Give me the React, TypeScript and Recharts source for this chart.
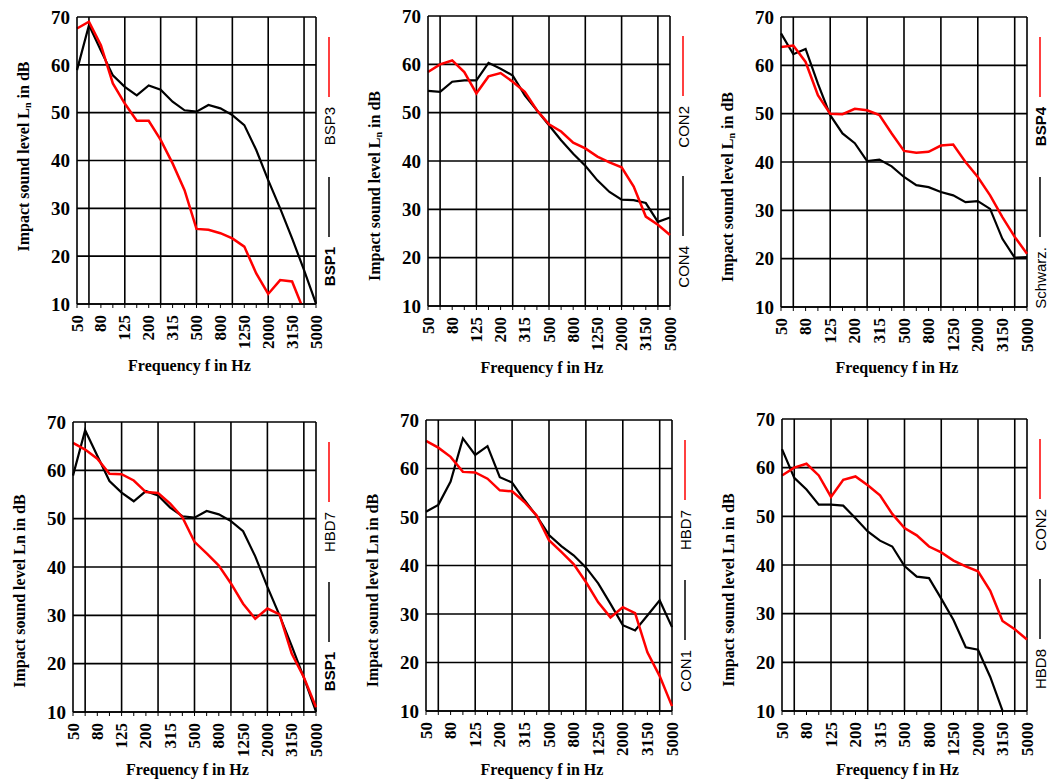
import React from "react";
import { LineChart, Line, XAxis, YAxis, CartesianGrid, ReferenceLine } from "recharts";

const freqs = ["50", "63", "80", "100", "125", "160", "200", "250", "315", "400", "500", "630", "800", "1000", "1250", "1600", "2000", "2500", "3150", "4000", "5000"];
const labeledFreqs = ["50", "80", "125", "200", "315", "500", "800", "1250", "2000", "3150", "5000"];
const octaveLines = ["63", "125", "250", "500", "1000", "2000", "4000", "5000"];
const yTicks = [10, 20, 30, 40, 50, 60, 70];

const bsp1 = [58.9, 68.3, 63, 57.8, 55.4, 53.6, 55.7, 54.8, 52.3, 50.5, 50.2, 51.6, 50.9, 49.5, 47.4, 42.2, 35.9, 30, 23.7, 17.1, 10.1];
const bsp3 = [67.6, 69, 64.1, 56.1, 51.9, 48.3, 48.3, 44.3, 39.4, 33.8, 25.7, 25.5, 24.8, 23.7, 22, 16.4, 12.1, 15, 14.7, 8.5, null];
const con2 = [58.4, 60, 60.8, 58.4, 54, 57.5, 58.2, 56.4, 54.3, 50.5, 47.6, 46.1, 43.8, 42.6, 40.9, 39.7, 38.7, 34.7, 28.5, 26.8, 24.7];
const con4 = [54.5, 54.3, 56.4, 56.7, 56.7, 60.3, 59.1, 57.7, 53.6, 50.5, 47.4, 44.3, 41.5, 39, 36, 33.6, 32, 31.9, 31.3, 27.4, 28.3];
const bsp4 = [63.8, 64.1, 60.7, 53.8, 50, 49.9, 51, 50.7, 49.7, 45.9, 42.3, 41.9, 42.1, 43.4, 43.6, 40, 36.9, 33.1, 28.6, 24.5, 21];
const schwarz = [66.6, 62.3, 63.4, 56.2, 49.7, 45.9, 43.9, 40.2, 40.5, 39.1, 36.9, 35.2, 34.8, 33.8, 33.1, 31.7, 31.9, 30.3, 24.1, 20.2, 20.3];
const hbd7 = [65.7, 64.3, 62.4, 59.3, 59.2, 57.9, 55.5, 55.3, 53.1, 50.3, 45.2, 42.8, 40.3, 36.6, 32.4, 29.3, 31.4, 30.2, 22.1, 17.2, 11];
const con1 = [51.1, 52.5, 57.3, 66.2, 62.8, 64.6, 58.2, 57.1, 53.5, 50.2, 46.3, 44, 42.1, 39.6, 36.3, 32.1, 27.7, 26.6, 29.7, 32.8, 27.3];
const hbd8 = [63.8, 57.9, 55.5, 52.4, 52.4, 52.2, 49.6, 46.9, 45, 43.8, 39.8, 37.6, 37.3, 33.1, 28.7, 23.1, 22.6, 17, 10.1, null, null];

// black series, red series, names, bold flags, subscript in y label
const panels = [
  { black: bsp1, red: bsp3, blackName: "BSP1", redName: "BSP3", blackBold: true, redBold: false, sub: true },
  { black: con4, red: con2, blackName: "CON4", redName: "CON2", blackBold: false, redBold: false, sub: true },
  { black: schwarz, red: bsp4, blackName: "Schwarz.", redName: "BSP4", blackBold: false, redBold: true, sub: true },
  { black: bsp1, red: hbd7, blackName: "BSP1", redName: "HBD7", blackBold: true, redBold: false, sub: false },
  { black: con1, red: hbd7, blackName: "CON1", redName: "HBD7", blackBold: false, redBold: false, sub: false },
  { black: hbd8, red: con2, blackName: "HBD8", redName: "CON2", blackBold: false, redBold: false, sub: false },
];

// plot-area frames: left, right, top, bottom, y-label shift, x-label offset
const frames = [
  { L: 77, R: 316, T: 17, B: 304, ly: -4, lx: 61 },
  { L: 428, R: 670, T: 16, B: 306, ly: 25, lx: 61 },
  { L: 781, R: 1027, T: 17, B: 307, ly: 25, lx: 60 },
  { L: 73, R: 316, T: 422, B: 712, ly: 24, lx: 57 },
  { L: 426, R: 672, T: 420, B: 711, ly: 25, lx: 58 },
  { L: 782, R: 1027, T: 419, B: 711, ly: 25, lx: 58 },
];

const SERIF = "'Liberation Serif', 'Times New Roman', serif";
const SANS = "'Liberation Sans', Arial, sans-serif";
const RED = "#ff0000";
const MT = 14;
const MR = 20;

const XTick = (props: any) => {
  const { x, y, payload } = props;
  if (!labeledFreqs.includes(payload.value)) return null;
  return (
    <text
      transform={`translate(${x},${y}) rotate(-90)`}
      textAnchor="end"
      dominantBaseline="central"
      fontFamily={SERIF}
      fontWeight="bold"
      fontSize={17}
      fill="#000"
    >
      {payload.value}
    </text>
  );
};

const YLabel = (props: any) => {
  const { viewBox, sub, shift } = props;
  const cx = viewBox.x + viewBox.width - 54;
  const cy = viewBox.y + viewBox.height / 2 + shift;
  return (
    <text
      x={cx}
      y={cy}
      transform={`rotate(-90 ${cx} ${cy})`}
      textAnchor="middle"
      dominantBaseline="central"
      fontFamily={SERIF}
      fontWeight="bold"
      fontSize={16}
      fill="#000"
    >
      {sub ? (
        <>
          <tspan>Impact sound level L</tspan>
          <tspan fontSize={10} dy={4}>n</tspan>
          <tspan dy={-4}> in dB</tspan>
        </>
      ) : (
        "Impact sound level Ln in dB"
      )}
    </text>
  );
};

const XLabel = (props: any) => {
  const { viewBox, off } = props;
  const cx = viewBox.x + viewBox.width / 2 - 7;
  const cy = viewBox.y + off;
  return (
    <text x={cx} y={cy} textAnchor="middle" dominantBaseline="central" fontFamily={SERIF} fontWeight="bold" fontSize={16} fill="#000">
      Frequency f in Hz
    </text>
  );
};

const SideLegend = ({ left, top, p }: any) => {
  const cx = 13;
  return (
    <svg style={{ position: "absolute", left, top }} width={30} height={300}>
      <line x1={cx} x2={cx} y1={20} y2={80} stroke={RED} strokeWidth={1.5} />
      <text
        transform={`translate(${cx},90) rotate(-90)`}
        textAnchor="end"
        dominantBaseline="central"
        fontFamily={SANS}
        fontWeight={p.redBold ? "bold" : "normal"}
        fontSize={15}
        fill="#000"
      >
        {p.redName}
      </text>
      <line x1={cx} x2={cx} y1={160} y2={220} stroke="#000" strokeWidth={1.5} />
      <text
        transform={`translate(${cx},230) rotate(-90)`}
        textAnchor="end"
        dominantBaseline="central"
        fontFamily={SANS}
        fontWeight={p.blackBold ? "bold" : "normal"}
        fontSize={15}
        fill="#000"
      >
        {p.blackName}
      </text>
    </svg>
  );
};

const Panel = ({ p, f }: any) => {
  const data = freqs.map((fr, i) => ({ f: fr, black: p.black[i], red: p.red[i] }));
  const yW = 75;
  const width = f.R - f.L + yW + MR;
  const height = f.B - f.T + MT + 75;
  return (
    <>
      <div style={{ position: "absolute", left: f.L - yW, top: f.T - MT }}>
        <LineChart width={width} height={height} data={data} margin={{ top: MT, right: MR, bottom: 0, left: 0 }}>
          <CartesianGrid vertical={false} stroke="#000" strokeWidth={1.6} />
          {octaveLines.map((fr) => (
            <ReferenceLine key={fr} x={fr} stroke="#000" strokeWidth={1.6} />
          ))}
          <XAxis
            dataKey="f"
            interval={0}
            tick={<XTick />}
            tickSize={4}
            tickMargin={7}
            tickLine={{ stroke: "#000", strokeWidth: 1 }}
            axisLine={{ stroke: "#000", strokeWidth: 1.6 }}
            height={75}
            label={<XLabel off={f.lx} />}
          />
          <YAxis
            domain={[10, 70]}
            ticks={yTicks}
            interval={0}
            allowDataOverflow
            width={yW}
            tickLine={false}
            tickSize={0}
            tickMargin={7}
            axisLine={{ stroke: "#000", strokeWidth: 1.6 }}
            tick={{ fill: "#000", fontFamily: SERIF, fontWeight: "bold", fontSize: 19 }}
            label={<YLabel sub={p.sub} shift={f.ly} />}
          />
          <Line dataKey="black" name={p.blackName} stroke="#000" strokeWidth={2.2} dot={false} isAnimationActive={false} />
          <Line dataKey="red" name={p.redName} stroke={RED} strokeWidth={2.5} dot={false} isAnimationActive={false} />
        </LineChart>
      </div>
      <SideLegend left={f.R} top={f.T} p={p} />
    </>
  );
};

export default function App() {
  return (
    <div style={{ position: "absolute", left: 0, top: 0, width: 1053, height: 780, background: "#fff", overflow: "hidden" }}>
      {panels.map((p, i) => (
        <Panel key={i} p={p} f={frames[i]} />
      ))}
    </div>
  );
}
